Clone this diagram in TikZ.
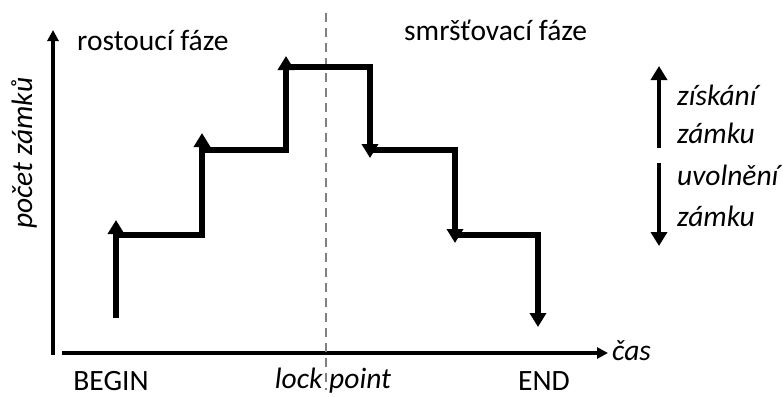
\documentclass[tikz,border=0pt]{standalone}
\usepackage{fontspec}
\setmainfont{Carlito}
\usetikzlibrary{arrows.meta}
\begin{document}
\begin{tikzpicture}[x=1bp,y=-1bp,
  lbl/.style={inner sep=0pt,font=\fontsize{29.5bp}{32bp}\selectfont},
  ilbl/.style={lbl,font=\fontsize{29.5bp}{32bp}\selectfont\itshape},
  axis/.style={line width=3.2bp,-{Triangle[width=11bp,length=11bp]}},
  stair/.style={line width=5.5bp,-{Triangle[width=16bp,length=14bp]}},
  lock/.style={line width=1.8bp,gray,dash pattern=on 9bp off 6bp}]
\useasboundingbox (0,0) rectangle (783,396);

% axes
\coordinate (o) at (53,355);
\coordinate (ytop) at (53,30);
\coordinate (xstart) at (62,353);
\coordinate (xend) at (608,353);
\draw[axis] (o) -- (ytop);
\draw[axis] (xstart) -- (xend);

% lock point divider
\coordinate (ltop) at (326,13);
\coordinate (lbot) at (326,390);
\draw[lock] (ltop) -- (lbot);

% staircase: lock acquisition then release
\coordinate (s0) at (116,318);
\coordinate (s0t) at (116,220);
\coordinate (a1) at (116,235);
\coordinate (b1) at (202,235);
\coordinate (t1) at (202,133);
\coordinate (a2) at (202,150);
\coordinate (b2) at (286,150);
\coordinate (t2) at (286,56);
\coordinate (a3) at (286,67);
\coordinate (b3) at (370,67);
\coordinate (t3) at (370,158);
\coordinate (a4) at (370,150);
\coordinate (b4) at (455,150);
\coordinate (t4) at (455,243);
\coordinate (a5) at (455,235);
\coordinate (b5) at (538,235);
\coordinate (t5) at (538,327);
\draw[stair] (s0) -- (s0t);
\draw[stair] (a1) -- (b1) -- (t1);
\draw[stair] (a2) -- (b2) -- (t2);
\draw[stair] (a3) -- (b3) -- (t3);
\draw[stair] (a4) -- (b4) -- (t4);
\draw[stair] (a5) -- (b5) -- (t5);

% legend
\coordinate (gup0) at (659,148);
\coordinate (gup1) at (659,66);
\coordinate (gdn0) at (659,163);
\coordinate (gdn1) at (659,246);
\draw[stair,line width=4.5bp] (gup0) -- (gup1);
\draw[stair,line width=4.5bp] (gdn0) -- (gdn1);
\node[ilbl,anchor=west] (zisk) at (677,95) {získání};
\node[ilbl,anchor=west] (zam1) at (677,133) {zámku};
\node[ilbl,anchor=west] (uvol) at (677,175) {uvolnění};
\node[ilbl,anchor=west] (zam2) at (677,216) {zámku};

% labels
\node[lbl,anchor=west] (grow) at (77,40) {rostoucí fáze};
\node[lbl,anchor=west] (shrink) at (404,30) {smršťovací fáze};
\node[ilbl,rotate=90] (ylab) at (24,153) {počet zámků};
\node[ilbl,anchor=west] (xlab) at (612,351) {čas};
\node[lbl] (begin) at (111,381) {BEGIN};
\node[ilbl] (lp) at (333,381) {lock point};
\node[lbl] (end) at (544,381) {END};
\end{tikzpicture}
\end{document}
